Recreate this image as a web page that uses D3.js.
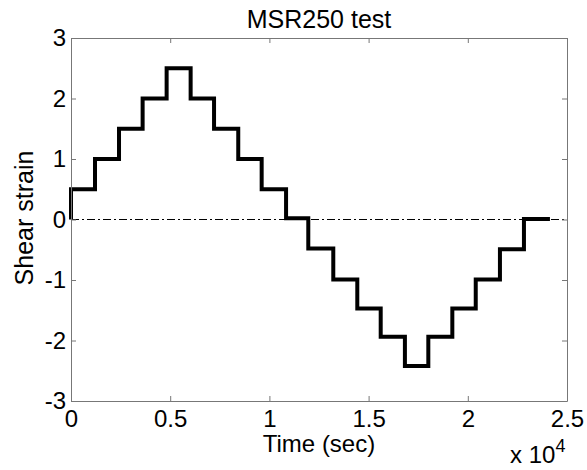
<!DOCTYPE html>
<html>
<head>
<meta charset="utf-8">
<script src="https://cdn.jsdelivr.net/npm/d3@7"></script>
<style>
  body { margin: 0; background: #fff; }
  text { font-family: "Liberation Sans", Arial, sans-serif; fill: #000; }
</style>
</head>
<body>
<svg></svg>
<script>
// step change times (sec) and shear strain held after each time
const times  = [0, 0, 1210, 2420, 3610, 4820, 6030, 7210, 8430, 9610, 10840,
                11960, 13220, 14430, 15610, 16830, 18010, 19220, 20400, 21620, 22830, 24140];
const strain = [0, 0.5, 1.0, 1.5, 2.0, 2.5, 2.0, 1.5, 1.0, 0.5, 0.02,
                -0.48, -0.99, -1.47, -1.94, -2.42, -1.94, -1.47, -0.99, -0.49, 0.01, 0.01];
const xTicks = [0, 5000, 10000, 15000, 20000, 25000];
const yTicks = [-3, -2, -1, 0, 1, 2, 3];

const svg = d3.select("svg")
    .attr("width", 587)
    .attr("height", 470);

const margin = {top: 38, right: 20, bottom: 69, left: 71},
      width = 587 - margin.left - margin.right,
      height = 470 - margin.top - margin.bottom;

const g = svg.append("g")
    .attr("transform", `translate(${margin.left},${margin.top})`);

const x = d3.scaleLinear().domain([0, 25000]).range([0, width]);
const y = d3.scaleLinear().domain([-3, 3]).range([height, 0]);

const axisColor = "#777";

// zero reference line
g.append("line")
    .attr("x1", x(0)).attr("x2", x(25000))
    .attr("y1", y(0)).attr("y2", y(0))
    .attr("stroke", "#000")
    .attr("stroke-width", 1)
    .attr("stroke-dasharray", "8,3,2,3");

// step series
const pts = times.map((t, i) => [t, strain[i]]);
g.append("path")
    .datum(pts)
    .attr("fill", "none")
    .attr("stroke", "#000")
    .attr("stroke-width", 4)
    .attr("d", d3.line()
        .x(d => x(d[0]))
        .y(d => y(d[1]))
        .curve(d3.curveStepAfter));

function styleAxis(sel) {
    sel.select(".domain").attr("stroke", axisColor);
    sel.selectAll(".tick line").attr("stroke", axisColor);
    sel.selectAll("text").style("font-size", "24px").attr("fill", "#000");
}

g.append("g")
    .attr("transform", `translate(0,${height})`)
    .call(d3.axisBottom(x).tickValues(xTicks).tickSizeInner(-5).tickSizeOuter(0)
        .tickPadding(9).tickFormat(d => String(d / 10000)))
    .call(styleAxis);

g.append("g")
    .call(d3.axisTop(x).tickValues(xTicks).tickSizeInner(-5).tickSizeOuter(0).tickFormat(""))
    .call(styleAxis);

g.append("g")
    .call(d3.axisLeft(y).tickValues(yTicks).tickSizeInner(-5).tickSizeOuter(0)
        .tickPadding(5).tickFormat(d => String(d)))
    .call(styleAxis);

g.append("g")
    .attr("transform", `translate(${width},0)`)
    .call(d3.axisRight(y).tickValues(yTicks).tickSizeInner(-5).tickSizeOuter(0).tickFormat(""))
    .call(styleAxis);

// title and labels
svg.append("text")
    .attr("x", margin.left + width / 2)
    .attr("y", 28)
    .attr("text-anchor", "middle")
    .style("font-size", "25px")
    .text("MSR250 test");

svg.append("text")
    .attr("x", margin.left + width / 2)
    .attr("y", 452)
    .attr("text-anchor", "middle")
    .style("font-size", "24px")
    .text("Time (sec)");

svg.append("text")
    .attr("transform", "rotate(-90)")
    .attr("x", -218)
    .attr("y", 33)
    .attr("text-anchor", "middle")
    .style("font-size", "25px")
    .text("Shear strain");

const mult = svg.append("text")
    .attr("x", 510)
    .attr("y", 463)
    .style("font-size", "24px");
mult.append("tspan").text("x 10");
mult.append("tspan")
    .attr("dy", -11)
    .style("font-size", "18px")
    .text("4");
</script>
</body>
</html>
